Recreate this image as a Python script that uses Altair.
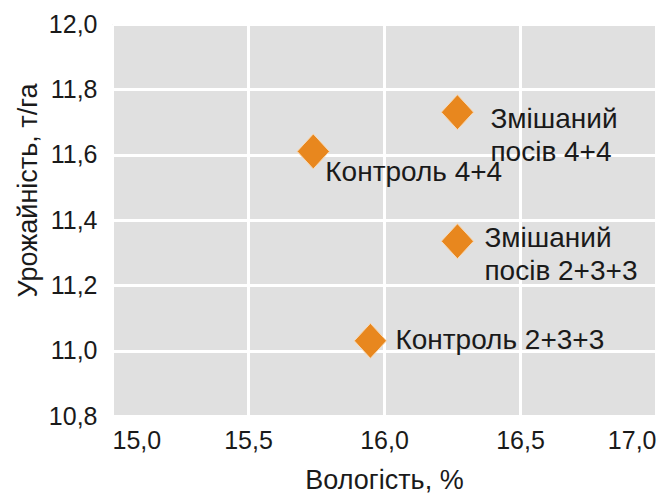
import altair as alt
import pandas as pd

# moisture (%) vs yield (t/ha)
labels = ["Контроль 4+4", "Змішаний\nпосів 4+4", "Змішаний\nпосів 2+3+3", "Контроль 2+3+3"]
moisture = [15.74, 16.27, 16.27, 15.95]
yield_tha = [11.61, 11.73, 11.335, 11.03]

x_ticks = [15.0, 15.5, 16.0, 16.5, 17.0]
y_ticks = [10.8, 11.0, 11.2, 11.4, 11.6, 11.8, 12.0]

df = pd.DataFrame({"label": labels, "moisture": moisture, "yield": yield_tha})

FONT = "Liberation Sans"
comma = "replace(format(datum.value, '.1f'), '.', ',')"

x = alt.X(
    "moisture:Q",
    scale=alt.Scale(domain=[15.0, 17.0], nice=False, zero=False),
    axis=alt.Axis(
        title="Вологість, %",
        values=x_ticks,
        labelExpr=comma,
        labelFlush=True,
        labelPadding=12,
        titlePadding=14,
    ),
)
y = alt.Y(
    "yield:Q",
    scale=alt.Scale(domain=[10.8, 12.0], nice=False, zero=False),
    axis=alt.Axis(
        title="Урожайність, т/га",
        values=y_ticks,
        labelExpr=comma,
        labelPadding=15,
        titlePadding=6,
        titleY=166,
    ),
)

base = alt.Chart(df).encode(x=x, y=y)

points = base.mark_point(
    shape="M-0.92,0L0,-1L0.92,0L0,1Z",
    size=1225,
    filled=True,
    fill="#e8871e",
    stroke="#f8d9b4",
    strokeWidth=1,
    opacity=1,
)

# per-label offsets from the marker
offsets = {
    "Контроль 4+4": (12, 22),
    "Змішаний\nпосів 4+4": (33, 8),
    "Змішаний\nпосів 2+3+3": (27, -2),
    "Контроль 2+3+3": (25, 0),
}
texts = []
for lab, (dx, dy) in offsets.items():
    texts.append(
        base.transform_filter(alt.datum.label == lab)
        .mark_text(
            align="left",
            baseline="middle",
            dx=dx,
            dy=dy,
            font=FONT,
            fontSize=28,
            lineBreak="\n",
            lineHeight=33,
            color="#1a1a1a",
        )
        .encode(text="label:N")
    )

chart = (
    alt.layer(points, *texts)
    .properties(
        width=544,
        height=392,
        autosize=alt.AutoSizeParams(type="none"),
        padding={"left": 104, "top": 16, "right": 7, "bottom": 80},
    )
    .configure_view(fill="#e0e0e0", strokeWidth=0)
    .configure_axis(
        grid=True,
        gridColor="#ffffff",
        gridWidth=3,
        domain=False,
        ticks=False,
        tickSize=0,
        labelFont=FONT,
        labelFontSize=25,
        labelColor="#1a1a1a",
        titleFont=FONT,
        titleFontSize=27,
        titleFontWeight="normal",
        titleColor="#1a1a1a",
    )
)

chart.save("out.html", embed_options={"renderer": "svg", "actions": False})
